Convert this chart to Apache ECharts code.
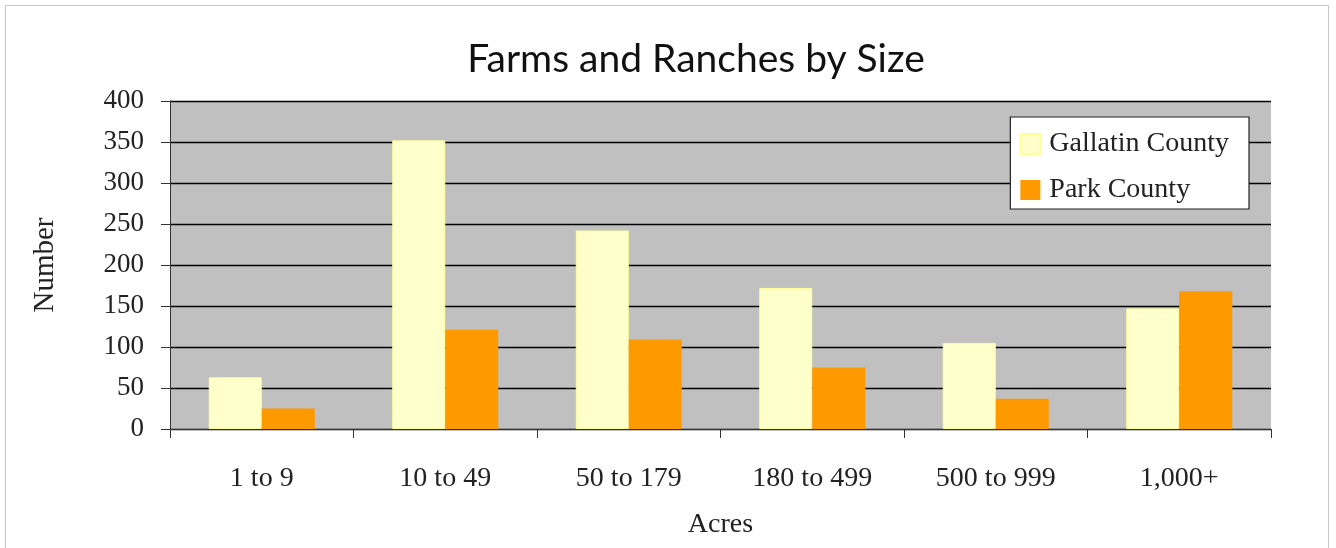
<!DOCTYPE html>
<html>
<head>
<meta charset="utf-8">
<script src="https://cdn.jsdelivr.net/npm/echarts@6/dist/echarts.min.js"></script>
<style>
html,body{margin:0;padding:0;background:#fff;}
#frame{position:absolute;left:5px;top:5px;width:1324px;height:548px;border:1px solid #c8c8c8;box-sizing:border-box;}
#chart{position:absolute;left:0;top:0;width:1336px;height:548px;}
</style>
</head>
<body>
<div id="frame"></div>
<div id="chart"></div>
<script>
const categories = ['1 to 9', '10 to 49', '50 to 179', '180 to 499', '500 to 999', '1,000+'];
const gallatin = [63, 352, 242, 172, 105, 147];
const park = [25, 121, 109, 75, 37, 168];
const yTicks = [0, 50, 100, 150, 200, 250, 300, 350, 400];

const serif = '"Liberation Serif", "DejaVu Serif", serif';
const chart = echarts.init(document.getElementById('chart'), null, {renderer: 'canvas'});
chart.setOption({
  animation: false,
  backgroundColor: 'transparent',
  title: {
    text: 'Farms and Ranches by Size',
    left: 691, top: 35, textAlign: 'center',
    textStyle: {fontFamily: 'Lato, "Noto Sans", sans-serif', fontWeight: 'normal', fontSize: 39, color: '#111'}
  },
  legend: {
    right: 87, top: 117, orient: 'vertical',
    backgroundColor: '#fff', borderColor: '#222', borderWidth: 1.2, borderRadius: 0,
    padding: [13, 20, 5, 9], itemGap: 18, itemWidth: 20, itemHeight: 20,
    textStyle: {fontFamily: serif, fontSize: 28, lineHeight: 28, color: '#222', padding: [0, 0, 0, 4]},
    data: [{name: 'Gallatin County', icon: 'rect'}, {name: 'Park County', icon: 'rect'}]
  },
  grid: {left: 170, right: 65, top: 101, bottom: 119, show: true, backgroundColor: '#c0c0c0', borderWidth: 0},
  xAxis: {
    type: 'category', data: categories,
    name: 'Acres', nameLocation: 'middle', nameGap: 82,
    nameTextStyle: {fontFamily: serif, fontSize: 28, color: '#222'},
    axisLine: {lineStyle: {color: '#333', width: 1}},
    axisTick: {show: true, length: 9, lineStyle: {color: '#333'}},
    axisLabel: {fontFamily: serif, fontSize: 28, color: '#222', margin: 36}
  },
  yAxis: {
    type: 'value', min: 0, max: 400, interval: 50,
    name: 'Number', nameLocation: 'middle', nameGap: 110, nameRotate: 90,
    nameTextStyle: {fontFamily: serif, fontSize: 29, color: '#222'},
    axisLine: {show: true, lineStyle: {color: '#333', width: 1}},
    axisTick: {show: true, length: 9, lineStyle: {color: '#333'}},
    axisLabel: {fontFamily: serif, fontSize: 27, color: '#222', margin: 26,
      formatter: v => yTicks.includes(v) ? String(v) : ''},
    splitLine: {show: true, lineStyle: {color: '#000', width: 1.3}}
  },
  series: [
    {name: 'Gallatin County', type: 'bar', data: gallatin, barWidth: 53, barGap: '0%',
      itemStyle: {color: '#ffffcc', borderColor: '#ffff99', borderWidth: 1}},
    {name: 'Park County', type: 'bar', data: park, barWidth: 53, barGap: '0%',
      itemStyle: {color: '#ff9900'}}
  ]
});
</script>
</body>
</html>
